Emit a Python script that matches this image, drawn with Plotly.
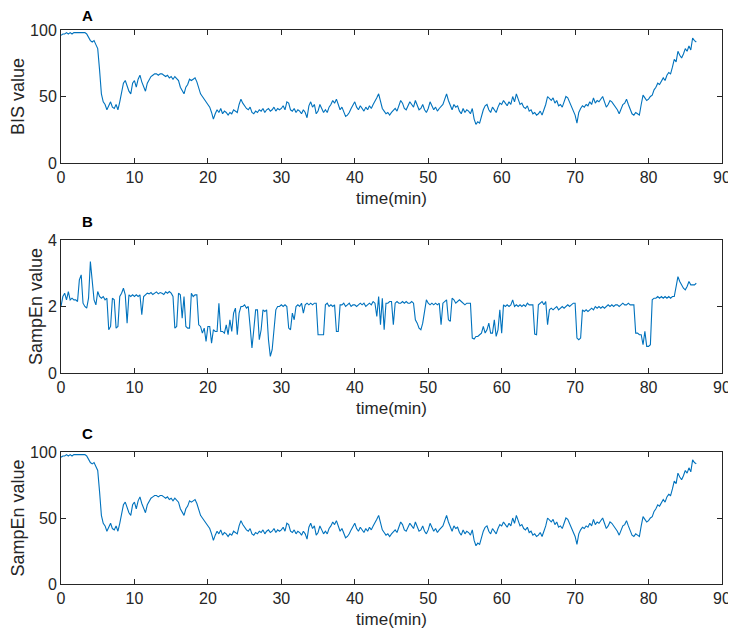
import numpy as np
import plotly.graph_objects as go
from plotly.subplots import make_subplots

bis_values = [
    96, 97, 97, 98,  97, 98, 97, 98,  98, 98, 98, 98,  98, 98, 97, 95,
    92, 91, 92, 89,  86, 70, 52, 46,  44, 40, 43, 46,  42, 41, 44, 40,
    46, 52, 60, 62,  58, 54, 52, 60,  62, 57, 63, 66,  61, 58, 54, 60,
    63, 65, 66, 67,  67, 66, 67, 67,  66, 65, 66, 64,  65, 63, 65, 63,
    62, 57, 55, 52,  57, 59, 63, 62,  63, 64, 61, 56,  52, 50, 48, 46,
    44, 42, 38, 33,  37, 40, 38, 41,  37, 39, 38, 36,  38, 37, 40, 39,
    38, 44, 48, 45,  43, 41, 40, 42,  38, 37, 39, 38,  40, 39, 41, 38,
    40, 41, 39, 40,  42, 39, 41, 40,  41, 43, 40, 46,  45, 40, 39, 41,
    38, 40, 39, 37,  40, 38, 34, 43,  46, 42, 44, 37,  39, 44, 41, 38,
    40, 38, 42, 44,  47, 45, 48, 44,  40, 42, 38, 35,  36, 38, 41, 44,
    46, 42, 40, 43,  41, 39, 42, 40,  43, 41, 44, 46,  49, 52, 46, 41,
    39, 37, 38, 36,  38, 40, 41, 39,  43, 47, 45, 41,  40, 43, 46, 44,
    42, 47, 44, 40,  41, 44, 40, 38,  41, 46, 43, 40,  42, 39, 41, 43,
    44, 48, 52, 47,  43, 40, 44, 42,  43, 39, 37, 41,  38, 40, 39, 37,
    41, 33, 29, 31,  30, 36, 40, 43,  44, 40, 38, 42,  40, 38, 42, 45,
    44, 47, 45, 43,  46, 44, 50, 46,  52, 47, 44, 45,  42, 41, 43, 39,
    40, 37, 38, 36,  37, 39, 36, 40,  44, 50, 48, 47,  49, 45, 47, 43,
    44, 42, 46, 50,  49, 46, 43, 40,  36, 30, 38, 41,  43, 42, 44, 43,
    46, 44, 49, 45,  47, 46, 48, 50,  46, 42, 44, 47,  46, 44, 42, 40,
    37, 40, 44, 45,  48, 44, 40, 37,  36, 38, 37, 36,  44, 51, 49, 47,
    48, 50, 51, 55,  57, 60, 59, 62,  64, 62, 66, 68,  67, 72, 78, 76,
    84, 81, 79, 82,  86, 84, 88, 85,  94, 92, 91,
]

sampen_values = [
    2.0, 2.3, 2.4, 2.2,  2.45, 2.2, 2.25, 2.2,  2.2, 2.15, 2.8, 2.95,
    2.1, 2.0, 1.95, 2.25,  3.35, 2.7, 2.2, 2.05,  2.45, 2.3, 2.25, 2.3,
    2.2, 2.25, 1.3, 1.4,  2.25, 2.2, 1.35, 1.4,  2.3, 2.4, 2.55, 2.35,
    1.5, 2.35, 2.3, 2.35,  2.3, 2.35, 2.3, 2.35,  1.75, 2.3, 2.35, 2.4,
    2.38, 2.42, 2.36, 2.4,  2.44, 2.38, 2.42, 2.4,  2.36, 2.44, 2.4, 2.45,
    2.4, 2.3, 1.35, 1.4,  2.4, 2.35, 1.65, 2.3,  1.4, 1.35, 1.35, 2.4,
    2.3, 2.35, 2.35, 1.45,  1.4, 1.2, 1.35, 0.95,  1.4, 1.4, 0.9, 1.3,
    1.25, 1.25, 2.1, 1.25,  1.25, 1.2, 1.45, 1.15,  1.6, 1.25, 1.8, 1.95,
    1.15, 1.8, 2.0, 2.0,  2.05, 1.95, 2.0, 1.4,  0.75, 1.3, 1.9, 1.9,
    1.0, 1.3, 1.9, 1.85,  1.9, 1.0, 0.5, 0.7,  1.3, 1.9, 2.0, 2.0,
    2.05, 2.0, 2.05, 2.0,  1.35, 1.3, 1.8, 1.6,  2.0, 2.05, 2.0, 2.1,
    1.8, 2.05, 2.1, 2.05,  2.1, 2.05, 2.1, 2.1,  1.15, 1.15, 1.15, 1.15,
    2.05, 2.1, 2.0, 2.05,  2.0, 2.05, 1.25, 1.25,  2.05, 2.05, 2.1, 2.0,
    2.05, 2.1, 2.0, 2.05,  2.05, 2.0, 2.05, 2.1,  2.05, 2.1, 2.0, 2.05,
    2.1, 2.05, 2.15, 2.1,  1.7, 2.3, 1.45, 2.25,  1.3, 2.1, 2.1, 2.15,
    2.15, 1.45, 2.1, 2.15,  2.1, 2.1, 2.15, 2.1,  2.15, 2.1, 2.1, 2.15,
    2.1, 1.6, 1.5, 1.35,  1.3, 1.5, 1.9, 2.2,  2.1, 2.05, 2.1, 2.05,
    2.1, 2.05, 2.1, 1.45,  2.1, 2.15, 2.2, 1.6,  1.55, 2.25, 2.2, 2.1,
    2.15, 2.2, 2.15, 2.1,  2.05, 2.1, 2.1, 2.1,  1.05, 1.02, 1.1, 1.1,
    1.15, 1.2, 1.4, 1.2,  1.3, 1.5, 1.2, 1.2,  1.6, 1.1, 1.3, 1.9,
    1.2, 2.05, 2.0, 2.05,  2.0, 2.05, 2.2, 2.0,  2.05, 2.0, 2.05, 2.0,
    2.05, 2.0, 2.1, 2.05,  2.05, 2.05, 1.17, 1.15,  2.05, 2.1, 2.15, 2.05,
    2.15, 1.45, 1.9, 1.95,  1.9, 1.95, 2.0, 1.9,  1.95, 2.0, 1.95, 2.0,
    2.05, 2.0, 2.05, 2.1,  2.1, 1.05, 1.0, 1.05,  1.9, 1.85, 1.9, 1.85,
    1.9, 1.95, 1.9, 2.0,  1.95, 2.0, 1.95, 2.0,  1.95, 2.0, 2.05, 2.0,
    2.05, 2.0, 2.05, 2.05,  2.0, 2.05, 2.1, 2.05,  2.05, 2.1, 2.05, 2.05,
    2.05, 1.2, 1.2, 1.15,  1.15, 0.85, 1.25, 0.8,  0.8, 0.85, 2.2, 2.25,
    2.25, 2.3, 2.25, 2.3,  2.25, 2.3, 2.25, 2.3,  2.25, 2.3, 2.3, 2.6,
    2.9, 2.75, 2.65, 2.55,  2.5, 2.6, 2.75, 2.65,  2.65, 2.65, 2.7,
]

sample_step_min = 0.25
bis_time = np.arange(len(bis_values)) * sample_step_min
sampen_time = np.arange(len(sampen_values)) * sample_step_min

panel_labels = ["A", "B", "C"]
y_titles = ["BIS value", "SampEn value", "SampEn value"]
x_title = "time(min)"
y_ranges = [[0, 100], [0, 4], [0, 100]]
y_dticks = [50, 2, 50]
x_range = [0, 90]

line_color = "#0072BD"
axis_color = "#262626"
font_family = "Liberation Sans, Arial, sans-serif"

# page body has an 8px margin, so the figure is laid out 8px in from the window edge
OFF = 8
W, H = 736 - OFF, 639 - OFF
ml, mr = 61 - OFF, W - (722 - OFF)
mt, mb = 30 - OFF, H - (584 - OFF)
ph = H - mt - mb

def py(pix):
    return (H - mb - (pix - OFF)) / ph

domains = [[py(163), py(30)], [py(373), py(240)], [py(584), py(452)]]

fig = make_subplots(rows=3, cols=1)
series = [(bis_time, bis_values), (sampen_time, sampen_values), (bis_time, bis_values)]
for i, (tx, vy) in enumerate(series):
    fig.add_trace(go.Scatter(x=tx, y=vy, mode="lines",
                             line=dict(color=line_color, width=1.1),
                             showlegend=False, hoverinfo="skip"),
                  row=i + 1, col=1)

for i in range(3):
    xa = "xaxis" if i == 0 else f"xaxis{i+1}"
    ya = "yaxis" if i == 0 else f"yaxis{i+1}"
    fig.layout[xa].update(
        domain=[0, 1], range=x_range, dtick=10, tick0=0, automargin=False,
        showline=True, linecolor=axis_color, linewidth=1, mirror="ticks",
        ticks="inside", ticklen=5, tickcolor=axis_color, showgrid=False,
        zeroline=False, tickfont=dict(size=16, color=axis_color, family=font_family),
        title=dict(text=x_title, font=dict(size=17, color=axis_color, family=font_family), standoff=6),
    )
    fig.layout[ya].update(
        domain=domains[i], range=y_ranges[i], dtick=y_dticks[i], tick0=0, automargin=False,
        showline=True, linecolor=axis_color, linewidth=1, mirror="ticks",
        ticks="inside", ticklen=5, tickcolor=axis_color, showgrid=False,
        zeroline=False, tickfont=dict(size=16, color=axis_color, family=font_family),
        title=dict(text=y_titles[i], font=dict(size=18, color=axis_color, family=font_family), standoff=0),
    )

label_y = [py(15), py(221), py(433)]
for i, lab in enumerate(panel_labels):
    fig.add_annotation(text=f"<b>{lab}</b>", x=(87 - 61) / (722 - 61), y=label_y[i],
                       xref="paper", yref="paper", showarrow=False,
                       xanchor="center", yanchor="middle",
                       font=dict(size=15, color="#000000", family=font_family))

fig.update_layout(width=W, height=H, margin=dict(l=ml, r=mr, t=mt, b=mb),
                  plot_bgcolor="white", paper_bgcolor="white",
                  font=dict(family=font_family, color=axis_color))

fig.write_html("out.html")
